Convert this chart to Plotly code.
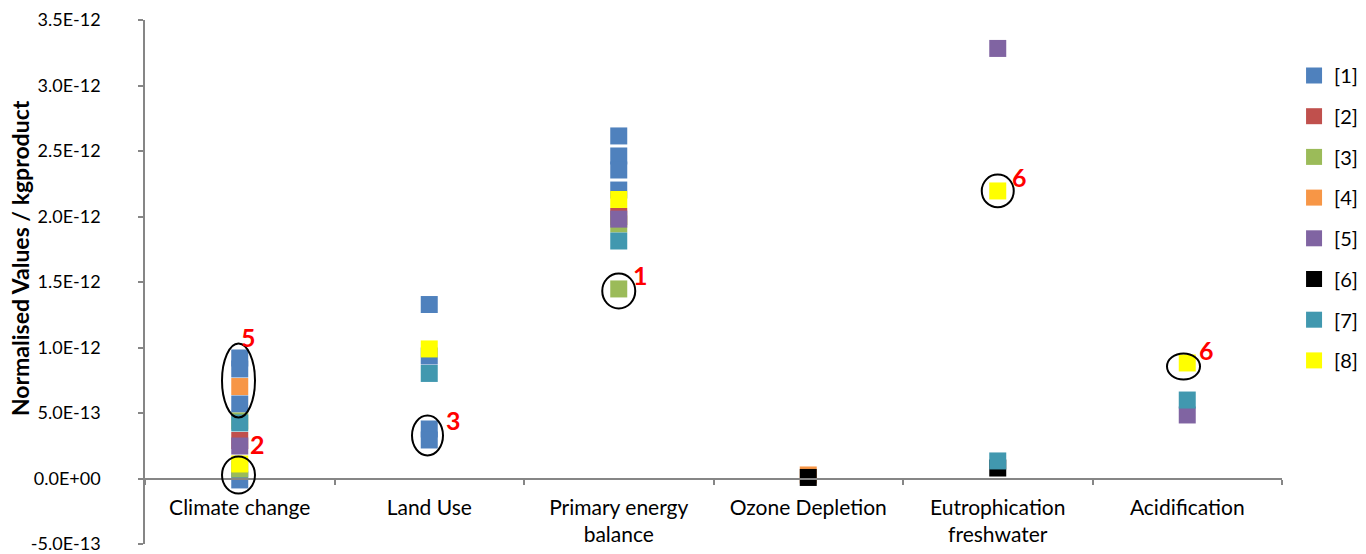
import plotly.graph_objects as go

# ---------------- data ----------------
CATEGORIES = ["Climate change", "Land Use", "Primary energy balance",
              "Ozone Depletion", "Eutrophication freshwater", "Acidification"]
CATEGORY_TICKTEXT = ["Climate change", "Land Use", "Primary energy<br>balance",
                     "Ozone Depletion", "Eutrophication<br>freshwater", "Acidification"]

SERIES_NAMES = ["[1]", "[2]", "[3]", "[4]", "[5]", "[6]", "[7]", "[8]"]
SERIES_COLORS = ["#4F81BD", "#C0504D", "#9BBB59", "#F79646",
                 "#8064A2", "#000000", "#4198AF", "#FFFF00"]

S1_CAT = ["Climate change", "Climate change", "Climate change", "Climate change",
          "Land Use", "Land Use", "Land Use", "Land Use",
          "Primary energy balance", "Primary energy balance",
          "Primary energy balance", "Primary energy balance"]
S1_VAL = [9.2e-13, 8.36e-13, 5.69e-13, -1.1e-14,
          1.328e-12, 9.35e-13, 3.78e-13, 2.94e-13,
          2.615e-12, 2.462e-12, 2.355e-12, 2.202e-12]

S2_CAT = ["Climate change", "Primary energy balance"]
S2_VAL = [2.9e-13, 2.0e-12]

S3_CAT = ["Climate change", "Climate change", "Primary energy balance", "Primary energy balance"]
S3_VAL = [4.39e-13, 7.3e-14, 1.943e-12, 1.447e-12]

S4_CAT = ["Climate change", "Ozone Depletion"]
S4_VAL = [7.02e-13, 2.7e-14]

S5_CAT = ["Climate change", "Primary energy balance", "Eutrophication freshwater", "Acidification"]
S5_VAL = [2.48e-13, 1.98e-12, 3.283e-12, 4.85e-13]

S6_CAT = ["Ozone Depletion", "Eutrophication freshwater"]
S6_VAL = [8e-15, 8.0e-14]

S7_CAT = ["Climate change", "Land Use", "Primary energy balance",
          "Eutrophication freshwater", "Acidification"]
S7_VAL = [4.24e-13, 8.02e-13, 1.813e-12, 1.34e-13, 5.99e-13]

S8_CAT = ["Climate change", "Land Use", "Primary energy balance",
          "Eutrophication freshwater", "Acidification"]
S8_VAL = [1.11e-13, 9.89e-13, 2.13e-12, 2.195e-12, 8.82e-13]

Y_TICKS = [-5e-13, 0, 5e-13, 1e-12, 1.5e-12, 2e-12, 2.5e-12, 3e-12, 3.5e-12]
Y_MIN, Y_MAX = -5e-13, 3.5e-12
Y_TITLE = "Normalised Values / kgproduct"

# highlighted groups (ellipses) and their red labels
ELL_CAT = [0, 0, 1, 2, 4, 5]
ELL_Y0 = [4.65e-13, -1.15e-13, 1.76e-13, 1.298e-12, 2.07e-12, 7.56e-13]
ELL_Y1 = [1.03e-12, 1.68e-13, 4.81e-13, 1.565e-12, 2.32e-12, 9.54e-13]
LBL_TXT = ["5", "2", "3", "1", "6", "6"]
LBL_CAT = [0, 0, 1, 2, 4, 5]
LBL_Y = [1.084e-12, 2.67e-13, 4.5e-13, 1.557e-12, 2.30e-12, 9.81e-13]

# ---------------- figure ----------------
series_cats = [S1_CAT, S2_CAT, S3_CAT, S4_CAT, S5_CAT, S6_CAT, S7_CAT, S8_CAT]
series_vals = [S1_VAL, S2_VAL, S3_VAL, S4_VAL, S5_VAL, S6_VAL, S7_VAL, S8_VAL]

FONT = "Lato"
AXIS_GREY = "#868686"

fig = go.Figure()
for i, name in enumerate(SERIES_NAMES):
    fig.add_trace(go.Scatter(
        x=series_cats[i], y=series_vals[i], mode="markers", name=name,
        legendgroup=name,
        marker=dict(symbol="square", size=17, color=SERIES_COLORS[i],
                    line=dict(width=0)),
    ))

ell_dx = [-1.25, -1.25, -1.75, 0, 0, -3.75]
ell_w = [33, 33, 31, 33, 32, 33]
for k in range(len(ELL_CAT)):
    fig.add_shape(type="circle", xref="x", yref="y", xsizemode="pixel",
                  xanchor=ELL_CAT[k],
                  x0=ell_dx[k] - ell_w[k] / 2, x1=ell_dx[k] + ell_w[k] / 2,
                  y0=ELL_Y0[k], y1=ELL_Y1[k],
                  line=dict(color="black", width=2), layer="above")

lbl_dx = [9, 18, 24, 22, 22, 19]
for k in range(len(LBL_TXT)):
    fig.add_annotation(x=LBL_CAT[k], y=LBL_Y[k], xref="x", yref="y",
                       text="<b>" + LBL_TXT[k] + "</b>", showarrow=False,
                       xshift=lbl_dx[k],
                       font=dict(family=FONT, size=25, color="#FF0000"))

# y-axis title placed like the original (centred a little above plot centre)
fig.add_annotation(x=-0.1099, y=0.5458, xref="paper", yref="paper",
                   text="<b>" + Y_TITLE + "</b>", textangle=-90,
                   showarrow=False, xanchor="center", yanchor="middle",
                   borderpad=0,
                   font=dict(family=FONT, size=23, color="black"))

fig.update_layout(
    width=1366, height=554,
    margin=dict(l=145, r=84, t=20, b=10, autoexpand=False),
    paper_bgcolor="white", plot_bgcolor="white",
    font=dict(family=FONT, color="black"),
    showlegend=True,
    legend=dict(x=1.0106, xanchor="left", y=0.9313, yanchor="top",
                traceorder="grouped", tracegroupgap=11.7,
                font=dict(family=FONT, size=20, color="black"),
                bgcolor="rgba(0,0,0,0)"),
    xaxis=dict(
        type="category", categoryorder="array", categoryarray=CATEGORIES,
        range=[-0.5, 5.5], automargin=False,
        tickvals=CATEGORIES, ticktext=CATEGORY_TICKTEXT,
        tickson="boundaries", ticks="outside", ticklen=5, tickcolor=AXIS_GREY,
        tickwidth=1.5,
        showline=True, linecolor=AXIS_GREY, linewidth=2,
        showgrid=False, zeroline=False,
        anchor="free", position=(0 - Y_MIN) / (Y_MAX - Y_MIN),
        tickfont=dict(family=FONT, size=21, color="black"),
        ticklabelstandoff=10,
    ),
    yaxis=dict(
        range=[Y_MIN, Y_MAX], automargin=False,
        tickvals=Y_TICKS, ticktext=[f"{v:.1E}" for v in Y_TICKS],
        ticks="outside", ticklen=5, tickcolor=AXIS_GREY, tickwidth=1.5,
        showline=True, linecolor=AXIS_GREY, linewidth=1.5,
        showgrid=False, zeroline=False,
        tickfont=dict(family=FONT, size=18, color="black"),
        ticklabelstandoff=34, ticklabeloverflow="allow",
    ),
)

fig.write_html("out.html",
               config={"displayModeBar": False},
               post_script="document.body.style.margin='0';")
